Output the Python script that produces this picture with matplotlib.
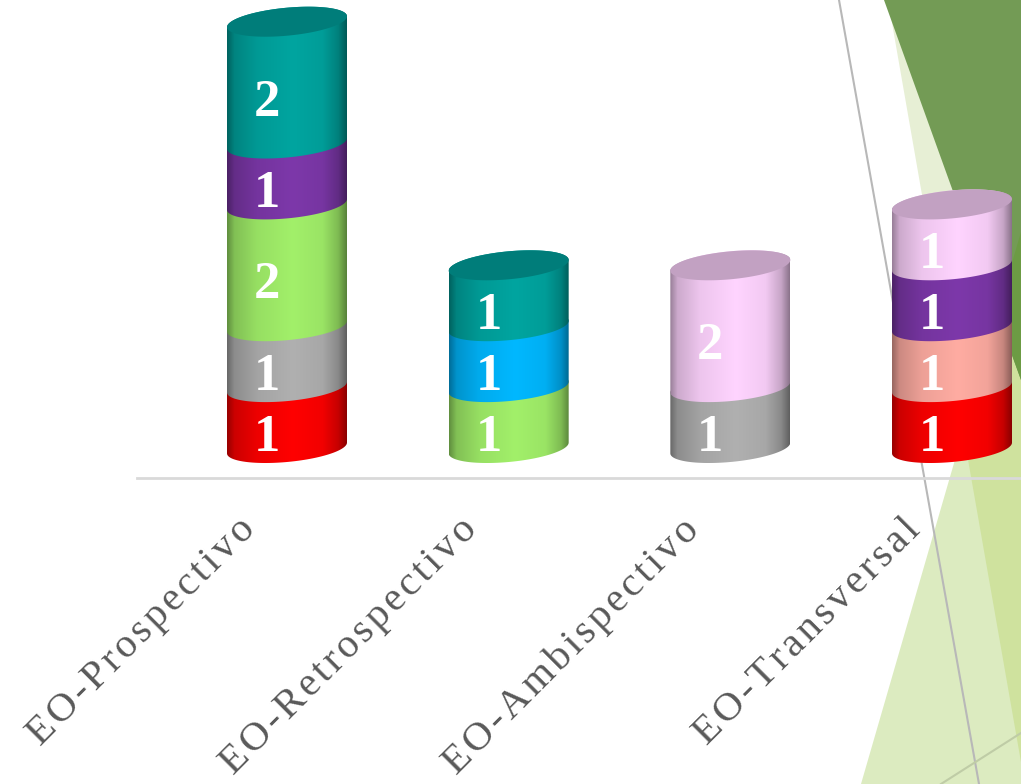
import numpy as np
import matplotlib
matplotlib.use("Agg")
import matplotlib.pyplot as plt
from matplotlib.patches import PathPatch, Polygon
from matplotlib.path import Path
from matplotlib.transforms import Affine2D, ScaledTranslation

categories = ["EO-Prospectivo", "EO-Retrospectivo", "EO-Ambispectivo", "EO-Transversal"]

# stacked from bottom to top
rojo = [1, 0, 0, 1]
gris = [1, 0, 1, 0]
verde = [2, 1, 0, 0]
salmon = [0, 0, 0, 1]
azul = [0, 1, 0, 0]
morado = [1, 0, 0, 1]
rosa = [0, 0, 2, 1]
teal = [2, 1, 0, 0]

series = [rojo, gris, verde, salmon, azul, morado, rosa, teal]
colors = ["#ff0000", "#b0b0b0", "#a2f06a", "#ffaca2", "#00b8ff", "#7d38aa", "#ffd4ff", "#00a5a0"]

W, H = 1021, 784
BASE_PX = 478       # axis line
ZERO_PX = 448       # centre of the bottom ellipse
PPU = 60.9          # pixels for one unit
X0_PX = 287
STEP_PX = 221.67
HW_PX = 60
TILT = 0.09
MINOR_PX = 14

plt.rcParams["font.family"] = ["Liberation Serif", "DejaVu Serif"]

fig = plt.figure(figsize=(W / 100, H / 100), dpi=100, facecolor="white")
ax = fig.add_axes([0, (H - BASE_PX) / H, 1, BASE_PX / H])
ax.patch.set_visible(False)

# background shapes of the slide, in pixels from the top left
px = Affine2D().scale(1, -1).translate(0, H)


def bg(points, color, z):
    ax.add_patch(Polygon(points, closed=True, fc=color, ec="none", transform=px, clip_on=False, zorder=z))


bg([(888, 0), (1021, 762), (1021, 0)], "#e7efd5", 0.1)
bg([(1021, 232), (861, 784), (1021, 784)], "#dcebc0", 0.2)
bg([(963, 431), (997, 314), (1021, 380), (1021, 762)], "#cfe29e", 0.3)
bg([(884, 0), (1021, 380), (1021, 0)], "#739b55", 0.4)
bg([(1021, 232), (997, 314), (1021, 380)], "#6c9b44", 0.5)
ax.plot([839, 979], [0, 784], color="#b8b8b8", lw=1.5, transform=px, clip_on=False, zorder=1)
ax.plot([941, 1021], [784, 733], color="#bfcca6", lw=1.5, transform=px, clip_on=False, zorder=1)

# shading across a cylinder
shade_x = [0, 0.06, 0.25, 0.55, 0.8, 0.93, 1]
shade_k = [0.6, 0.8, 0.93, 1, 0.95, 0.78, 0.55]
t_grad = np.linspace(0, 1, 120)
shade = np.interp(t_grad, shade_x, shade_k)


def ellipse_arc(xc, yc, t):
    dx = np.cos(t)
    x = xc + dx * HW_PX / STEP_PX
    y = yc + (dx * HW_PX * TILT + np.sin(t) * MINOR_PX) / PPU
    return np.column_stack([x, y])


front = np.linspace(np.pi, 2 * np.pi, 60)
back = np.linspace(0, np.pi, 60)
full = np.linspace(0, 2 * np.pi, 120)
hw = HW_PX / STEP_PX

for i in range(len(categories)):
    bottom = 0
    top_color = None
    for vals, c in zip(series, colors):
        v = vals[i]
        if v == 0:
            continue
        pts = np.vstack([ellipse_arc(i, bottom, front), ellipse_arc(i, bottom + v, back)])
        patch = PathPatch(Path(np.vstack([pts, pts[0]]), closed=True), fc="none", ec="none", transform=ax.transData)
        ax.add_patch(patch)
        rgb = np.array(matplotlib.colors.to_rgb(c))
        img = shade[None, :, None] * rgb[None, None, :]
        z = 3 + bottom * 0.1
        im = ax.imshow(img, extent=[i - hw, i + hw, bottom - 1, bottom + v + 1], aspect="auto",
                       interpolation="bilinear", zorder=z)
        im.set_clip_path(patch)
        ax.annotate(str(v), (i, bottom + v / 2), xytext=(-20 * 0.72, -20 * 0.72), textcoords="offset points",
                    ha="center", va="center", color="white", fontsize=38, fontweight="bold", zorder=6)
        bottom += v
        top_color = c
    cap = np.array(matplotlib.colors.to_rgb(top_color)) * 0.76
    ax.add_patch(Polygon(ellipse_arc(i, bottom, full), closed=True, fc=cap, ec="none", zorder=5))

ax.set_xlim(-X0_PX / STEP_PX, (W - X0_PX) / STEP_PX)
ax.set_ylim((ZERO_PX - BASE_PX) / PPU, ZERO_PX / PPU)

for s in ["top", "left", "right"]:
    ax.spines[s].set_visible(False)
ax.spines["bottom"].set_color("#d9d9d9")
ax.spines["bottom"].set_linewidth(2)
ax.spines["bottom"].set_bounds((137 - X0_PX) / STEP_PX, (W - X0_PX) / STEP_PX)
ax.set_yticks([])

spaced = ["\u200a".join(c) for c in categories]
ax.set_xticks(range(len(categories)))
ax.set_xticklabels(spaced, rotation=45, ha="right", va="top", rotation_mode="anchor",
                   fontsize=29.5, color="#595959")
ax.tick_params(axis="x", length=0, pad=24)
offset = ScaledTranslation(-50 / 100, 0, fig.dpi_scale_trans)
for lab in ax.get_xticklabels():
    lab.set_transform(lab.get_transform() + offset)

fig.savefig("out.png", dpi=100)
